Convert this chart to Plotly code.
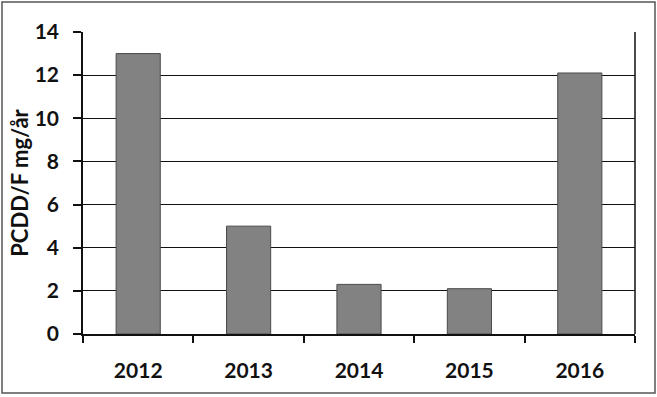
import plotly.graph_objects as go

years = ["2012", "2013", "2014", "2015", "2016"]
values = [13.0, 5.0, 2.3, 2.1, 12.1]
y_ticks = [0, 2, 4, 6, 8, 10, 12, 14]

W, H = 657, 397
L, R, T, B = 83, 22, 32, 63
pw, ph = W - L - R, H - T - B

def px(x):
    return (x - L) / pw

def py(y):
    return (H - B - y) / ph

fig = go.Figure(go.Bar(
    x=years, y=values,
    marker=dict(color="#828282", line=dict(color="#4a4a4a", width=1)),
    width=0.4,
))

font = dict(family="Lato, 'DejaVu Sans', sans-serif", size=20, color="#111111")

fig.update_layout(
    width=W, height=H,
    margin=dict(l=L, r=R, t=T, b=B),
    paper_bgcolor="white", plot_bgcolor="white",
    showlegend=False,
    font=font,
    xaxis=dict(
        showgrid=False, showline=True, linecolor="#111111", linewidth=1.5,
        ticks="outside", tickson="boundaries", ticklen=7, tickcolor="#111111",
        tickwidth=1.5,
        tickfont=dict(family="Lato", size=21, color="#111111", weight="bold"),
        ticklabelstandoff=17,
        mirror=False,
    ),
    yaxis=dict(
        range=[0, 14], tickvals=y_ticks, showgrid=True, gridcolor="#111111",
        gridwidth=1, showline=True, linecolor="#111111", linewidth=1.5,
        ticks="outside", ticklen=8, tickcolor="#111111", tickwidth=1.5,
        tickfont=dict(family="Lato", size=21, color="#111111", weight="bold"),
        ticklabelstandoff=10,
        zeroline=False,
        title=dict(text="PCDD/F mg/år",
                   font=dict(family="Lato", size=22, color="#111111", weight="bold"),
                   standoff=0),
    ),
    shapes=[
        dict(type="line", xref="paper", yref="paper", x0=1, x1=1, y0=0, y1=1,
             line=dict(color="#111111", width=1.5)),
        dict(type="rect", xref="paper", yref="paper",
             x0=px(2), x1=px(655), y0=py(393), y1=py(2),
             line=dict(color="#555555", width=1.5), layer="below"),
    ],
)

fig.write_html("out.html")
